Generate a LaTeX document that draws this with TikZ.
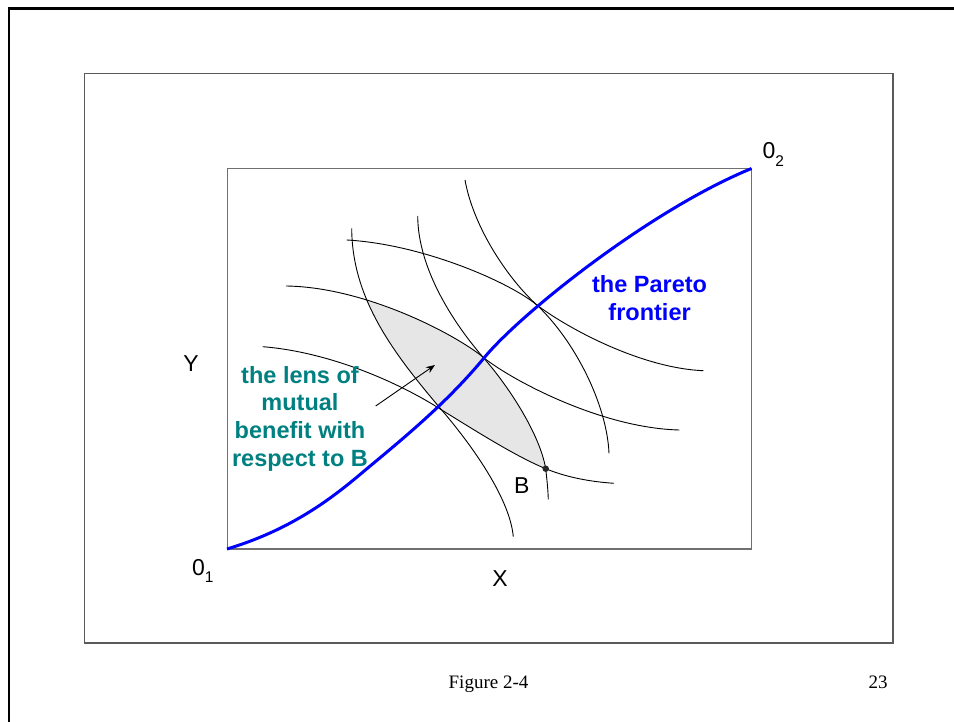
\documentclass[tikz,border=0pt]{standalone}
\usepackage{fontspec}
\setmainfont{Liberation Sans}
\newfontfamily\captionfont{Liberation Serif}
\usepackage{tikz}
\usetikzlibrary{arrows.meta}
\definecolor{pareto}{HTML}{0000FF}
\definecolor{lensteal}{HTML}{008080}
\definecolor{lensgray}{HTML}{E6E6E6}
\definecolor{boxgray}{HTML}{707070}

% indifference curves (pixel coordinates, y down)
\newcommand{\curveAone}{(262.7,346.7) .. controls (330,352) and (400,383) .. (441.7,410)
  .. controls (476,431) and (515,456) .. (545.7,468.7)
  .. controls (570,478.7) and (595,482) .. (614,483.3)}
\newcommand{\curveAtwo}{(286,286) .. controls (365,287) and (455,334) .. (483.5,357.5)
  .. controls (510,379) and (600,428) .. (679.3,430)}
\newcommand{\curveAthree}{(346.7,240) .. controls (420,244) and (505,280) .. (535,303.5)
  .. controls (565,327) and (640,368) .. (703.3,370.7)}
\newcommand{\curveBone}{(351.7,228.3) .. controls (352,300) and (395,355) .. (441.7,410)
  .. controls (475,449) and (510,500) .. (513.3,536.7)}
\newcommand{\curveBtwo}{(417.7,216) .. controls (418,270) and (455,325) .. (483.3,357.5)
  .. controls (510,388) and (540,435) .. (545.7,468.7)
  .. controls (547,480) and (548,490) .. (548.3,499.3)}
\newcommand{\curveBthree}{(465,180) .. controls (473,225) and (505,275) .. (535,303.3)
  .. controls (575,340) and (607,405) .. (609,453.3)}

\begin{document}
\begin{tikzpicture}[
    x=1pt,y=-1pt,
    frame/.style={draw=boxgray!80!black,line width=1.2pt},
    edgebox/.style={draw=boxgray,line width=1.5pt},
    indiff/.style={draw=black,line width=0.9pt},
    frontier/.style={draw=pareto,line width=3pt},
    axislabel/.style={inner sep=0pt,font=\fontsize{23}{27}\selectfont},
    callout/.style={inner sep=0pt,align=center,font=\fontsize{23.5}{27.8}\selectfont\bfseries},
    arrow/.style={-{Stealth[length=9pt,width=7pt]},line width=0.9pt}
  ]
    \useasboundingbox (0,0) rectangle (954,722);

    % Frames
    \draw[line width=2.2pt] (954,8.5) -| (9,722);
    \draw[frame] (84.5,73.3) rectangle (893,643);
    \draw[edgebox] (227.3,168.5) rectangle (751.5,549);

    % Lens of mutual benefit
    \begin{scope}
      \clip \curveAtwo -- (700,620) -- (270,620) -- cycle;
      \clip \curveAone -- (620,150) -- (260,150) -- cycle;
      \clip \curveBone -- (820,540) -- (820,225) -- cycle;
      \clip \curveBtwo -- (200,505) -- (200,215) -- cycle;
      \fill[lensgray] (200,150) rectangle (820,620);
    \end{scope}

    % Curves
    \draw[indiff] \curveAone;
    \draw[indiff] \curveAtwo;
    \draw[indiff] \curveAthree;
    \draw[indiff] \curveBone;
    \draw[indiff] \curveBtwo;
    \draw[indiff] \curveBthree;
    \draw[frontier] (227,549) .. controls (290,530) and (330,500) .. (363,472)
      .. controls (400,441) and (445,405) .. (484,358)
      .. controls (520,314) and (650,210) .. (751.5,168.5);

    % Point B
    \node[circle,fill=black!85,inner sep=0pt,minimum size=6.5pt] (bpt) at (545.7,468.7) {};
    \node[axislabel] (blab) at (521.7,486) {B};

    % Labels
    \node[axislabel] (ylab) at (191,363.3) {Y};
    \node[axislabel] (xlab) at (500,578.3) {X};
    \node[axislabel,anchor=base west] (origin1) at (191.8,575) {0\raisebox{-7.5pt}{\fontsize{15.5}{15.5}\selectfont 1}};
    \node[axislabel,anchor=base west] (origin2) at (762.5,159) {0\raisebox{-7.5pt}{\fontsize{15.5}{15.5}\selectfont 2}};

    \node[callout,text=lensteal] (lenslab) at (300,418.7) {the lens of\\mutual\\benefit with\\respect to B};
    \node[callout,text=pareto] (paretolab) at (649.6,298) {the Pareto\\frontier};

    \coordinate (tail) at (375.7,406);
    \coordinate (lenspt) at (435,365);
    \draw[arrow] (tail) -- (lenspt);

    % Footer
    \node[inner sep=0pt,anchor=base,font=\captionfont\fontsize{19}{22}\selectfont] (figcap) at (488.5,688) {Figure 2-4};
    \node[inner sep=0pt,anchor=base,font=\captionfont\fontsize{19}{22}\selectfont] (pagenum) at (878,688) {23};
  \end{tikzpicture}
\end{document}
